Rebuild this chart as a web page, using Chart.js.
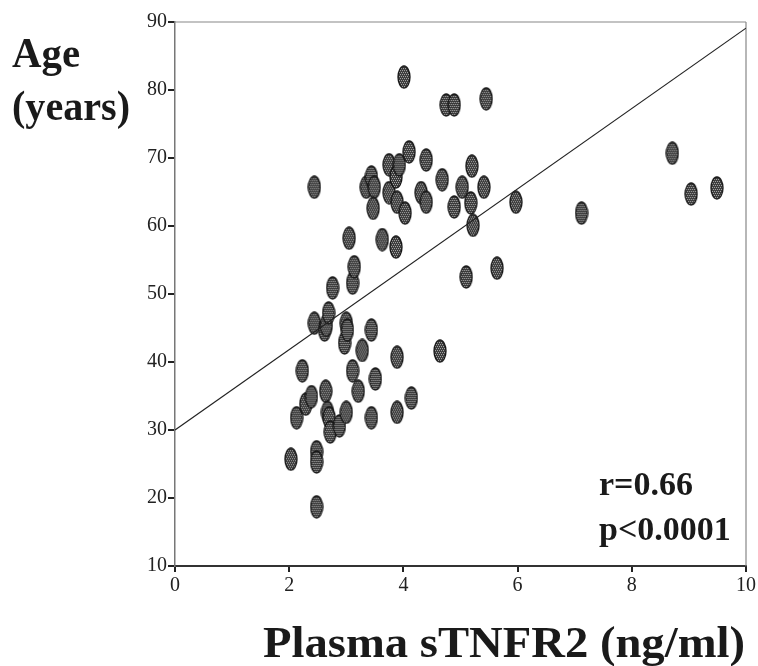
<!DOCTYPE html>
<html>
<head>
<meta charset="utf-8">
<script src="https://cdn.jsdelivr.net/npm/chart.js@4"></script>
<style>
  html, body { margin: 0; padding: 0; background: #fff; }
  #wrap { position: relative; width: 758px; height: 666px; }
</style>
</head>
<body>
<div id="wrap"><canvas id="scatter-chart" width="758" height="666"></canvas></div>
<script>
// --- Datos ---
const sTNFR2 = [
  2.03, 2.13, 2.23, 2.29, 2.39, 2.44, 2.44, 2.48, 2.48, 2.48,
  2.62, 2.64, 2.65, 2.67, 2.69, 2.70, 2.72, 2.76, 2.88, 2.97,
  3.00, 3.02, 3.00, 3.05, 3.11, 3.14, 3.11, 3.21, 3.28, 3.35,
  3.44, 3.49, 3.47, 3.44, 3.44, 3.51, 3.63, 3.75, 3.75, 3.87,
  3.87, 3.89, 3.89, 3.89, 3.93, 4.01, 4.03, 4.10, 4.14, 4.31,
  4.40, 4.40, 4.64, 4.68, 4.75, 4.89, 4.89, 5.03, 5.10, 5.18,
  5.20, 5.22, 5.41, 5.45, 5.64, 5.97, 7.12, 8.71, 9.04, 9.49
];
const ageYears = [
  25.7, 31.8, 38.7, 33.8, 34.9, 65.7, 45.7, 26.8, 25.3, 18.7,
  44.7, 35.7, 45.4, 32.6, 47.2, 31.8, 29.7, 50.9, 30.6, 42.8,
  45.7, 44.7, 32.6, 58.2, 51.6, 54.0, 38.7, 35.7, 41.7, 65.7,
  67.2, 65.7, 62.6, 44.7, 31.8, 37.5, 58.0, 69.0, 64.9, 67.2,
  56.9, 63.5, 40.7, 32.6, 69.0, 81.9, 61.9, 70.9, 34.7, 64.9,
  69.7, 63.5, 41.6, 66.8, 77.8, 77.8, 62.8, 65.7, 52.5, 63.4,
  68.8, 60.1, 65.7, 78.7, 53.8, 63.5, 61.9, 70.7, 64.7, 65.6
];
// recta de regresión
const fitX = [0, 10];
const fitY = [30, 89.1];
const xTicks = [0, 2, 4, 6, 8, 10];
const yTicks = [10, 20, 30, 40, 50, 60, 70, 80, 90];

// --- Marcador elíptico punteado ---
function makeMarker() {
  const c = document.createElement("canvas");
  c.width = 14; c.height = 24;
  const g = c.getContext("2d");
  g.beginPath();
  g.ellipse(7, 12, 6, 11, 0, 0, Math.PI * 2);
  g.fillStyle = "#3a3a3a";
  g.fill();
  g.save();
  g.clip();
  g.fillStyle = "#b0b0b0";
  for (let y = 1; y < 24; y += 2) {
    for (let x = (y % 4 === 1 ? 1 : 2); x < 14; x += 2) g.fillRect(x, y, 1, 1);
  }
  g.restore();
  g.lineWidth = 1.3;
  g.strokeStyle = "#151515";
  g.stroke();
  return c;
}

function drawStretched(ctx, text, x, y, size, width) {
  ctx.save();
  ctx.font = "bold " + size + "px 'Liberation Serif', serif";
  const w = ctx.measureText(text).width;
  ctx.translate(x, y);
  ctx.scale(width / w, 1);
  ctx.fillText(text, 0, 0);
  ctx.restore();
}

const labelsPlugin = {
  id: "figLabels",
  beforeDatasetsDraw(chart) {
    const { ctx, chartArea: a } = chart;
    ctx.save();
    ctx.strokeStyle = "#888";
    ctx.lineWidth = 1.2;
    ctx.beginPath();
    ctx.moveTo(a.left, a.top); ctx.lineTo(a.right, a.top);
    ctx.moveTo(a.right, a.top); ctx.lineTo(a.right, a.bottom);
    ctx.stroke();
    ctx.restore();
  },
  afterDraw(chart) {
    const ctx = chart.ctx;
    ctx.save();
    ctx.fillStyle = "#1a1a1a";
    ctx.textBaseline = "alphabetic";
    drawStretched(ctx, "Age", 12, 67, 42, 68);
    drawStretched(ctx, "(years)", 12, 120, 42, 118);
    drawStretched(ctx, "Plasma sTNFR2 (ng/ml)", 263, 657, 44, 482);
    ctx.font = "bold 34px 'Liberation Serif', serif";
    ctx.fillText("r=0.66", 599, 495);
    ctx.fillText("p<0.0001", 599, 540);
    ctx.restore();
  }
};

document.addEventListener("DOMContentLoaded", () => {
  const ctx = document.getElementById("scatter-chart").getContext("2d");
  const marker = makeMarker();
  const tickFont = { family: "'Liberation Serif', serif", size: 20 };

  new Chart(ctx, {
    type: "scatter",
    data: {
      datasets: [
        {
          type: "line",
          data: fitX.map((x, i) => ({ x, y: fitY[i] })),
          borderColor: "#222",
          borderWidth: 1.2,
          pointRadius: 0,
          fill: false
        },
        {
          data: sTNFR2.map((x, i) => ({ x, y: ageYears[i] })),
          pointStyle: marker,
          pointRadius: 7
        }
      ]
    },
    options: {
      responsive: false,
      animation: false,
      events: [],
      layout: { padding: { top: 22, right: 10, left: 0, bottom: 0 } },
      plugins: { legend: { display: false }, tooltip: { enabled: false } },
      scales: {
        x: {
          type: "linear",
          min: 0, max: 10,
          afterBuildTicks: s => { s.ticks = xTicks.map(v => ({ value: v })); },
          afterFit: s => { s.height = 100; },
          ticks: { font: tickFont, color: "#222", padding: 2, maxRotation: 0 },
          grid: { drawOnChartArea: false, tickLength: 6, color: "#222", lineWidth: 2 },
          border: { color: "#333", width: 2 }
        },
        y: {
          min: 10, max: 90,
          afterBuildTicks: s => { s.ticks = yTicks.map(v => ({ value: v })); },
          afterFit: s => { s.width = 175; },
          ticks: { font: tickFont, color: "#222", padding: 1 },
          grid: { drawOnChartArea: false, tickLength: 7, color: "#222", lineWidth: 2 },
          border: { color: "#777", width: 1.5 }
        }
      }
    },
    plugins: [labelsPlugin]
  });
});
</script>
</body>
</html>
